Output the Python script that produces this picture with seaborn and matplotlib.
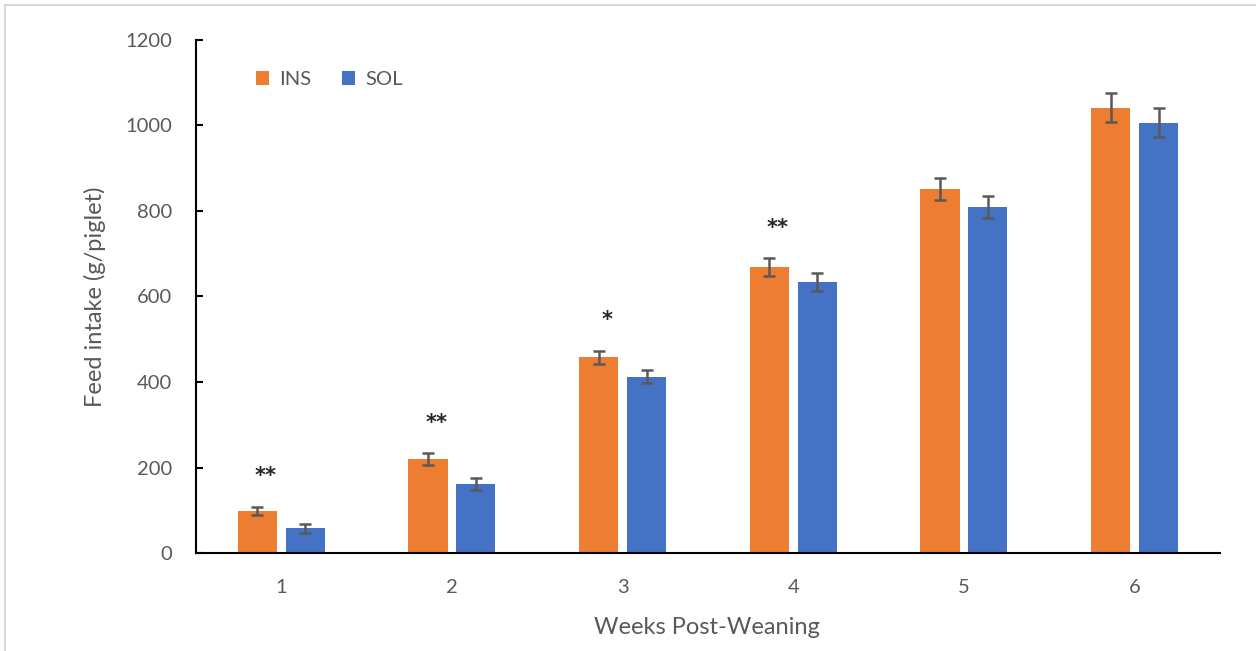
import matplotlib
matplotlib.use("Agg")
import matplotlib.pyplot as plt
from matplotlib.lines import Line2D
import seaborn as sns
import pandas as pd

# === Data ===
weeks = ["1", "2", "3", "4", "5", "6"]
ins_mean = [98, 220, 458, 669, 851, 1042]
ins_err = [10, 13, 15, 20, 26, 33]
sol_mean = [58, 161, 412, 634, 810, 1006]
sol_err = [10, 14, 15, 21, 26, 34]
sig = ["**", "**", "*", "**", "", ""]

groups = ["INS", "SOL"]
colors = {"INS": "#ED7D31", "SOL": "#4472C4"}
gray = "#595959"

df = pd.DataFrame({
    "week": weeks * 2,
    "group": ["INS"] * len(weeks) + ["SOL"] * len(weeks),
    "intake": ins_mean + sol_mean,
})
errs = {"INS": ins_err, "SOL": sol_err}

sns.set_theme(style="white")
plt.rcParams["font.family"] = ["Lato", "DejaVu Sans"]

fig = plt.figure(figsize=(12.56, 6.51), dpi=100)
ax = fig.add_axes([0.156, 0.1505, 0.8153, 0.7881])

sns.barplot(data=df, x="week", y="intake", hue="group", hue_order=groups,
            palette=colors, width=0.56, gap=0.18, errorbar=None,
            linewidth=0, saturation=1, ax=ax)

# error bars on top of each bar
for cont, g in zip(ax.containers, groups):
    xs = [b.get_x() + b.get_width() / 2 for b in cont]
    hs = [b.get_height() for b in cont]
    ax.errorbar(xs, hs, yerr=errs[g], fmt="none", ecolor=gray,
                elinewidth=1.8, capsize=4.5, capthick=1.8)

# significance marks above INS bars
for i, s in enumerate(sig):
    if s:
        ax.text(i - 0.09, ins_mean[i] + ins_err[i] + 72, s, ha="center",
                va="center", fontsize=15, fontweight="bold", color="#262626",
                family=["DejaVu Sans"])

ax.set_ylim(0, 1200)
ax.set_xlim(-0.5, 5.5)
ax.set_yticks(range(0, 1201, 200))

for side in ["top", "right"]:
    ax.spines[side].set_visible(False)
for side in ["left", "bottom"]:
    ax.spines[side].set_color("black")
    ax.spines[side].set_linewidth(1.5)

ax.tick_params(axis="y", direction="in", length=5, width=1.5, color="black",
               labelsize=14.5, labelcolor=gray, pad=17, left=True)
ax.tick_params(axis="x", length=0, labelsize=14.5, labelcolor=gray, pad=19)

ax.set_xlabel("Weeks Post-Weaning", fontsize=17, color=gray)
ax.set_ylabel("Feed intake (g/piglet)", fontsize=17, color=gray)
ax.xaxis.set_label_coords(0.499, -0.125)
ax.yaxis.set_label_coords(-0.088, 0.5)

handles, labels = ax.get_legend_handles_labels()
ax.legend(handles, labels, loc="center left", bbox_to_anchor=(0.059, 0.9226),
          ncol=2, frameon=False, fontsize=14.5, labelcolor=gray,
          handlelength=0.65, handleheight=0.65, handletextpad=0.5,
          columnspacing=1.5, borderpad=0, borderaxespad=0)

# light grey frame of the original picture
fig.add_artist(Line2D([5 / 1256, 5 / 1256], [0, 1 - 5 / 651],
                      color="#D9D9D9", lw=1.5, transform=fig.transFigure))
fig.add_artist(Line2D([5 / 1256, 1], [1 - 5 / 651, 1 - 5 / 651],
                      color="#D9D9D9", lw=1.5, transform=fig.transFigure))

fig.savefig("out.png", dpi=100)
